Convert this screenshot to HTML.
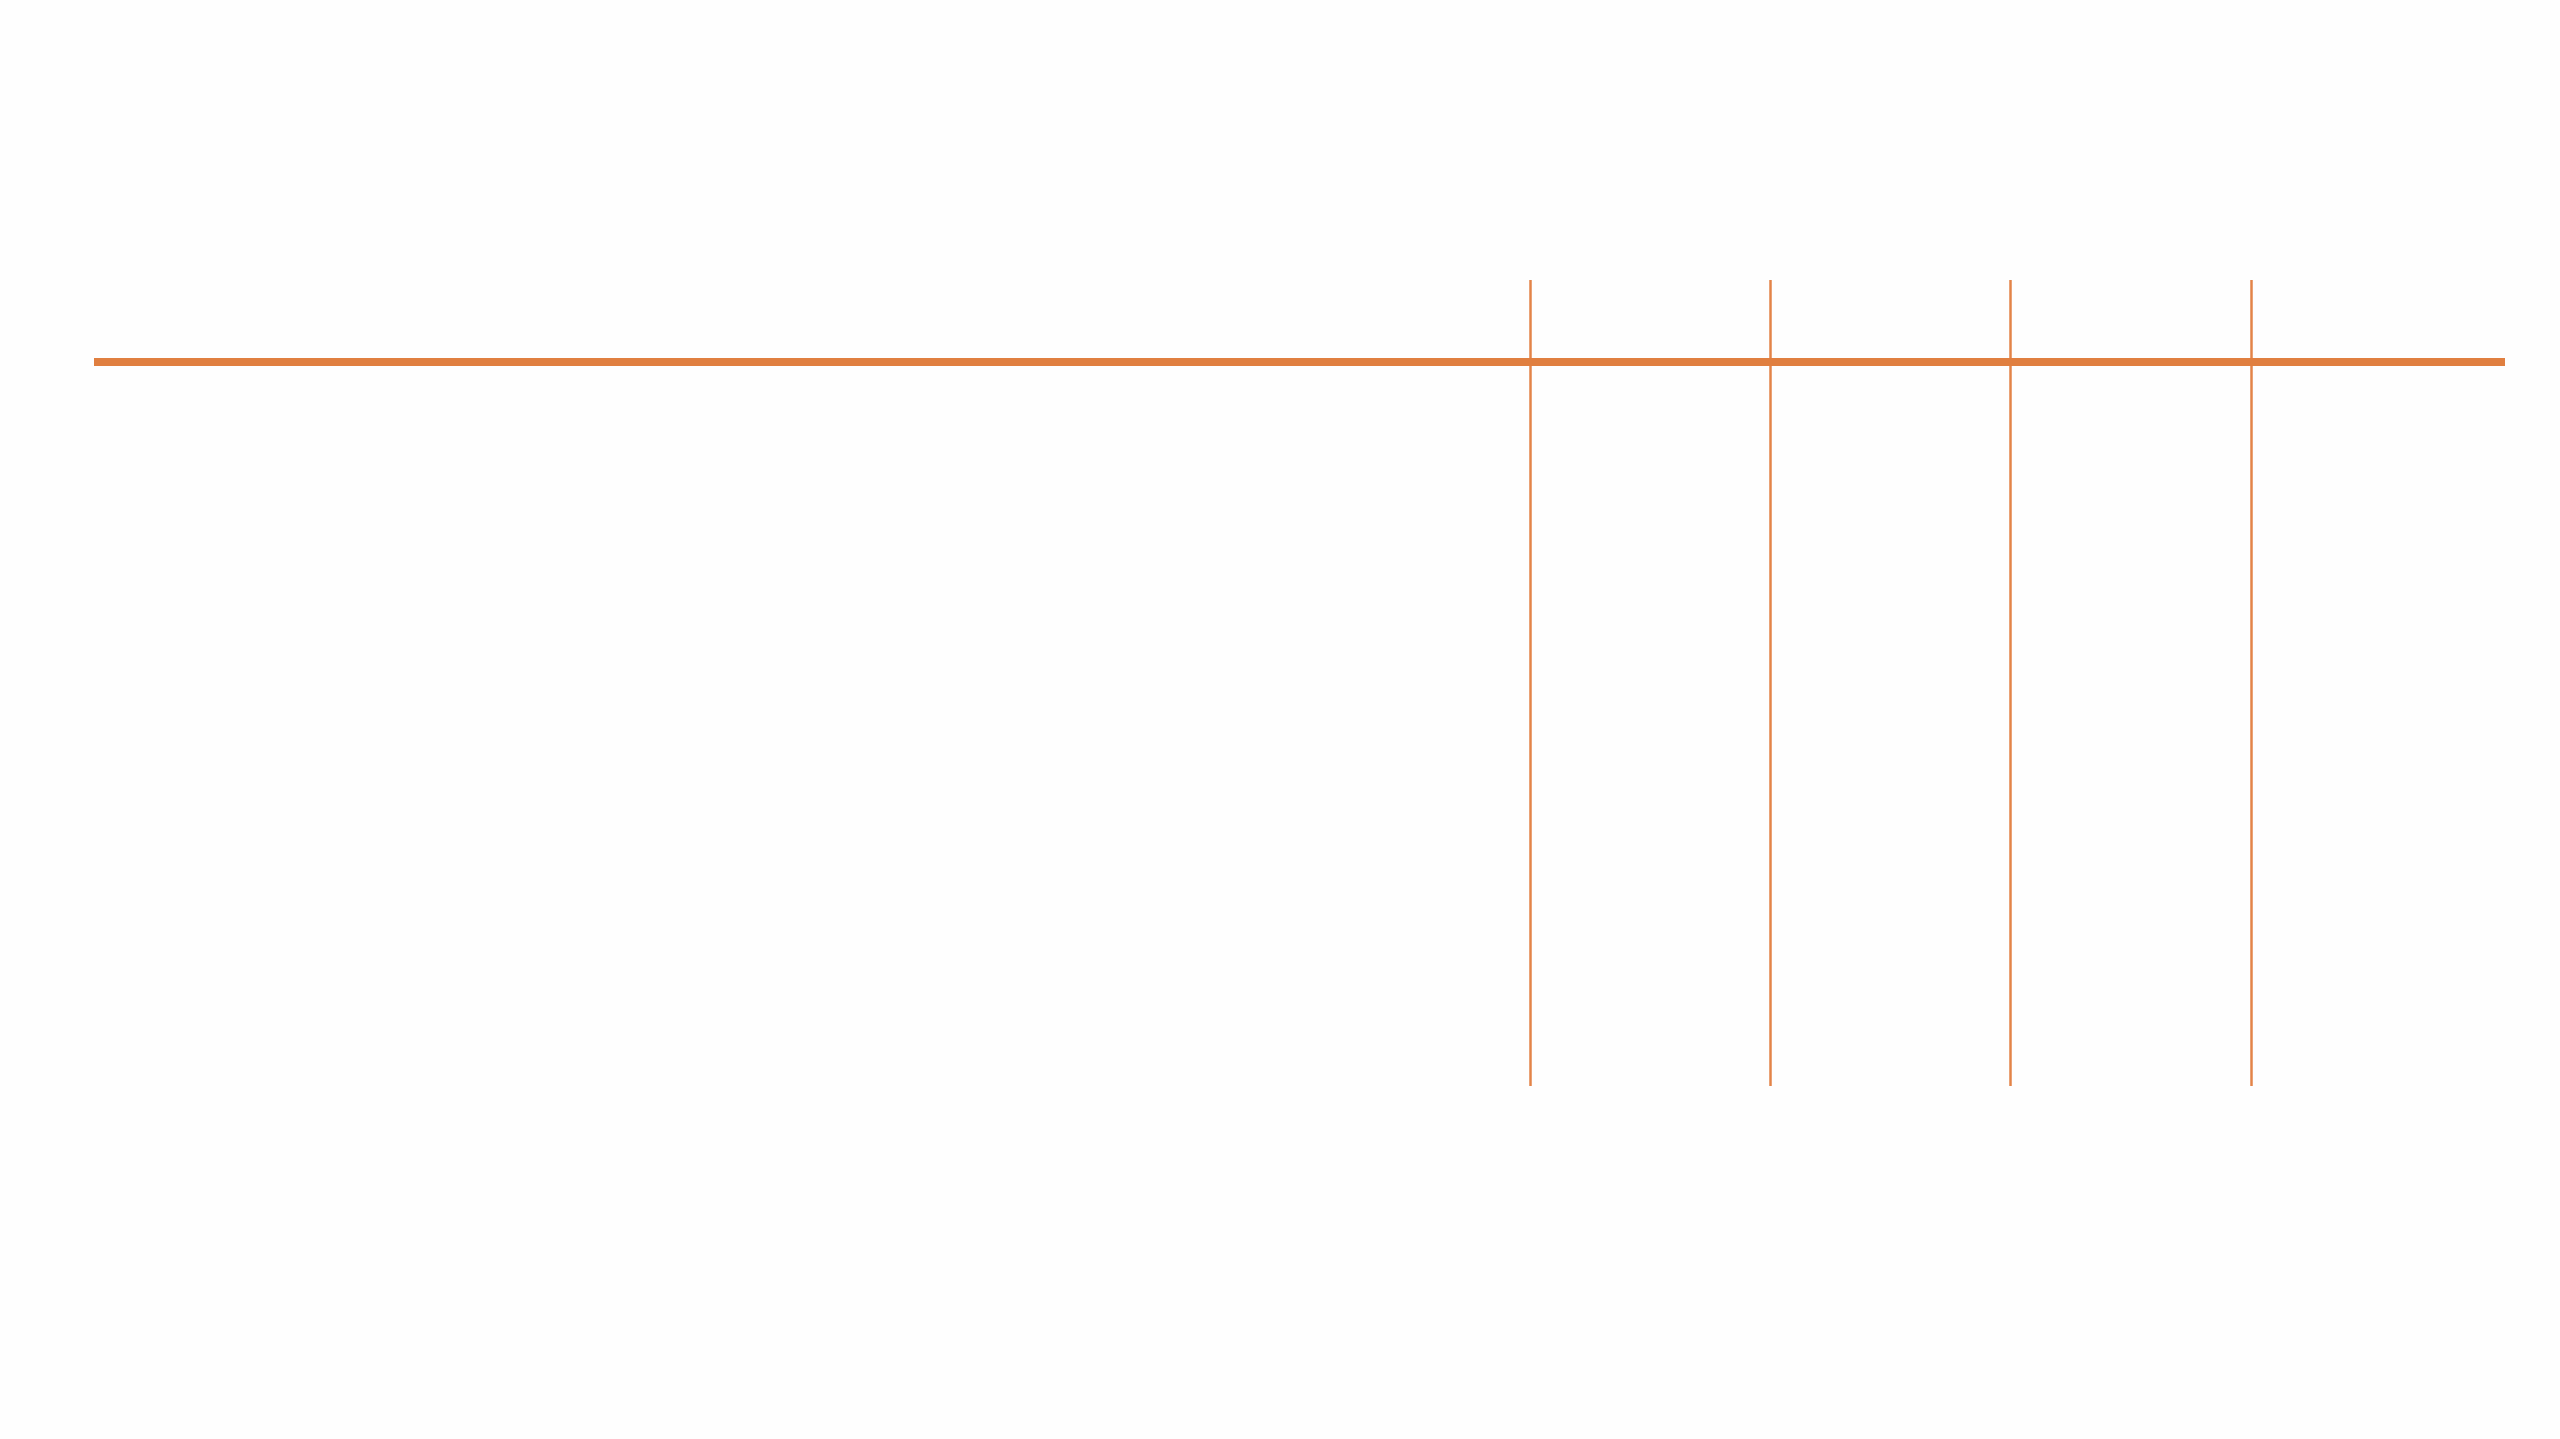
<!DOCTYPE html>
<html><head><style>
html,body{margin:0;padding:0;background:#fff;width:2560px;height:1439px;overflow:hidden}
svg{display:block}
</style></head><body>
<svg width="2560" height="1439" xmlns="http://www.w3.org/2000/svg">
<rect width="2560" height="1439" fill="#fefefe"/>
<g stroke="#e38448" stroke-width="2.5">
<line x1="1530.5" y1="280" x2="1530.5" y2="1086"/>
<line x1="1770.5" y1="280" x2="1770.5" y2="1086"/>
<line x1="2010.5" y1="280" x2="2010.5" y2="1086"/>
<line x1="2251.5" y1="280" x2="2251.5" y2="1086"/>
</g>
<rect x="94" y="358" width="2411" height="8" fill="#e07f40"/>
</svg>
</body></html>
